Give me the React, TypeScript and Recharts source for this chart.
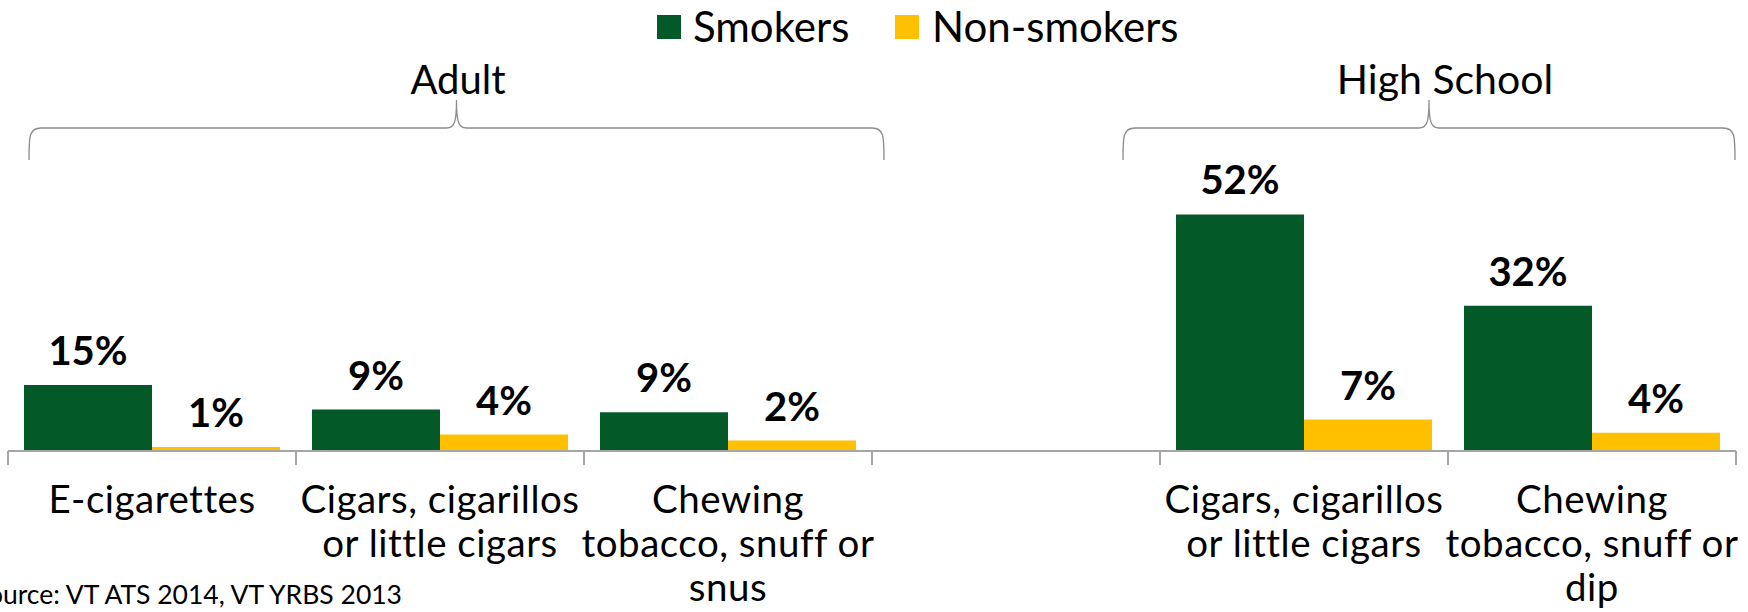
import React from 'react';
import { BarChart, Bar, XAxis, YAxis, LabelList } from 'recharts';

const categories = [
  'E-cigarettes',
  'Cigars, cigarillos\nor little cigars',
  'Chewing\ntobacco, snuff or\nsnus',
  '',
  'Cigars, cigarillos\nor little cigars',
  'Chewing\ntobacco, snuff or\ndip',
];
const smokers: (number | null)[] = [14.5, 9.1, 8.5, null, 52, 31.9];
const nonSmokers: (number | null)[] = [0.9, 3.6, 2.3, null, 6.9, 4.0];
const seriesNames = ['Smokers', 'Non-smokers'];
const groupTitles = ['Adult', 'High School'];
const sourceNote = 'Source: VT ATS 2014, VT YRBS 2013';

const GREEN = '#045929';
const YELLOW = '#FFC000';
const GRAY = '#A6A6A6';
const FONT = 'Lato, "DejaVu Sans", sans-serif';

const W = 1748;
const H = 612;
const MARGIN = { top: 178, right: 12, left: 8, bottom: 0 };
const HALF_BAND = (W - MARGIN.left - MARGIN.right) / categories.length / 2;

const data = categories.map((name, i) => ({
  key: i,
  name,
  smokers: smokers[i],
  nonSmokers: nonSmokers[i],
}));

function Tick(props: any) {
  const { x, y, payload } = props;
  const idx = payload.value as number;
  const lines = categories[idx].split('\n');
  const isLast = idx === categories.length - 1;
  return (
    <g>
      <line x1={x - HALF_BAND} x2={x - HALF_BAND} y1={y} y2={y + 14} stroke={GRAY} strokeWidth={2} />
      {isLast && <line x1={x + HALF_BAND} x2={x + HALF_BAND} y1={y} y2={y + 14} stroke={GRAY} strokeWidth={2} />}
      <text x={x} y={y + 62} textAnchor="middle" fontFamily={FONT} fontSize={38.5} letterSpacing={0.5} fill="#000">
        {lines.map((l, i) => (
          <tspan key={i} x={x} dy={i === 0 ? 0 : 44}>{l}</tspan>
        ))}
      </text>
    </g>
  );
}

function ValueLabel(props: any) {
  const { x, y, width, value } = props;
  if (value === null || value === undefined) return null;
  return (
    <text x={x + width / 2} y={y - 20} textAnchor="middle" fontFamily={FONT} fontWeight={700} fontSize={40} fill="#000">
      {Math.round(value)}%
    </text>
  );
}

function bracePath(x0: number, x1: number, yTop: number, yMid: number, yEnd: number) {
  const tip = (x0 + x1) / 2;
  return `M ${x0} ${yEnd} C ${x0} ${yMid + 8}, ${x0} ${yMid}, ${x0 + 12} ${yMid} L ${tip - 10} ${yMid} C ${tip - 2} ${yMid}, ${tip} ${yMid - 6}, ${tip} ${yTop} C ${tip} ${yMid - 6}, ${tip + 2} ${yMid}, ${tip + 10} ${yMid} L ${x1 - 12} ${yMid} C ${x1} ${yMid}, ${x1} ${yMid + 8}, ${x1} ${yEnd}`;
}

export default function App() {
  return (
    <div style={{ position: 'absolute', left: 0, top: 0, width: W, height: H, background: '#fff', overflow: 'hidden' }}>
      <BarChart width={W} height={H} data={data} margin={MARGIN} barCategoryGap={16} barGap={0}>
        <XAxis
          dataKey="key"
          height={161}
          tickLine={false}
          axisLine={{ stroke: GRAY, strokeWidth: 2 }}
          tick={<Tick />}
          tickSize={0}
          tickMargin={0}
          interval={0}
        />
        <YAxis hide domain={[0, 60]} />
        <Bar dataKey="smokers" name={seriesNames[0]} fill={GREEN} isAnimationActive={false}>
          <LabelList dataKey="smokers" content={<ValueLabel />} />
        </Bar>
        <Bar dataKey="nonSmokers" name={seriesNames[1]} fill={YELLOW} isAnimationActive={false}>
          <LabelList dataKey="nonSmokers" content={<ValueLabel />} />
        </Bar>
      </BarChart>
      <svg width={W} height={H} style={{ position: 'absolute', left: 0, top: 0, pointerEvents: 'none' }}>
        <rect x={657} y={15} width={24} height={24} fill={GREEN} />
        <text x={693} y={42} fontFamily={FONT} fontSize={42} fill="#000">{seriesNames[0]}</text>
        <rect x={895} y={15} width={24} height={24} fill={YELLOW} />
        <text x={932} y={42} fontFamily={FONT} fontSize={42} fill="#000">{seriesNames[1]}</text>
        <text x={458} y={94} textAnchor="middle" fontFamily={FONT} fontSize={40} fill="#000">{groupTitles[0]}</text>
        <text x={1445} y={94} textAnchor="middle" fontFamily={FONT} fontSize={41} fill="#000">{groupTitles[1]}</text>
        <path d={bracePath(29, 884, 100, 128, 160)} fill="none" stroke="#8C8C8C" strokeWidth={1.3} />
        <path d={bracePath(1123, 1735, 100, 128, 160)} fill="none" stroke="#8C8C8C" strokeWidth={1.3} />
        <text x={402} y={604} textAnchor="end" fontFamily={FONT} fontSize={26.5} fill="#000">{sourceNote}</text>
      </svg>
    </div>
  );
}
